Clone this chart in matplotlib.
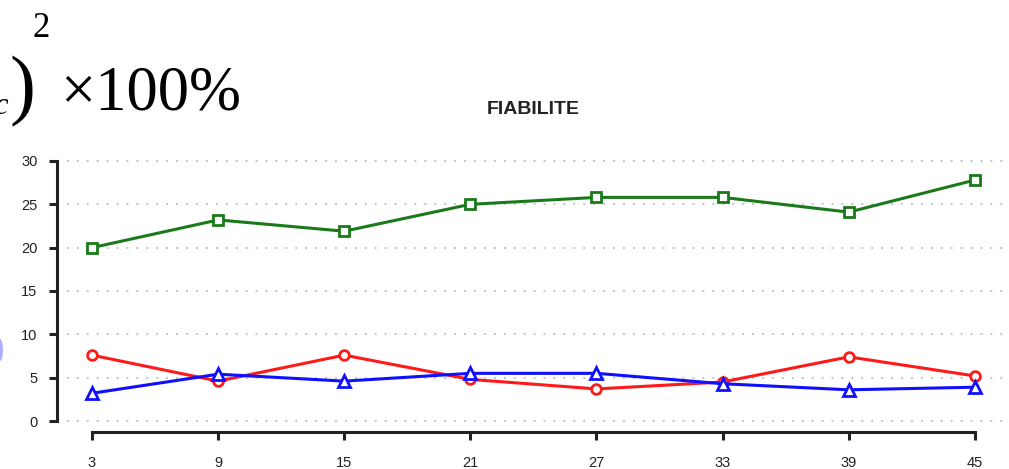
import matplotlib
matplotlib.use("Agg")
from matplotlib import pyplot as plt
from matplotlib.patches import Ellipse

# sample sizes on the x axis
sizes = [3, 9, 15, 21, 27, 33, 39, 45]

# reliability values (%) per method
green_vals = [20.0, 23.2, 21.9, 25.0, 25.8, 25.8, 24.1, 27.8]
red_vals = [7.6, 4.6, 7.6, 4.8, 3.7, 4.5, 7.4, 5.2]
blue_vals = [3.2, 5.4, 4.6, 5.5, 5.5, 4.3, 3.6, 3.9]

y_ticks = [0, 5, 10, 15, 20, 25, 30]

W, H = 1009, 469
fig = plt.figure(figsize=(W / 100, H / 100), dpi=100)
fig.patch.set_facecolor("white")

# axes placed in pixel terms
left, right, bottom, top = 57, 1009, 432, 150
ax = fig.add_axes([left / W, (H - bottom) / H, (right - left) / W, (bottom - top) / H])

# pixel scale: x=3 -> 92px, 21.02px per unit; y=0 -> 421px, 8.667px per unit
xpu, ypu = 21.02, 8.667
ax.set_xlim(3 - (92 - left) / xpu, 3 + (right - 92) / xpu)
ax.set_ylim(-(bottom - 421) / ypu, (421 - top) / ypu)

for y in y_ticks:
    ax.axhline(y, color="#bbbbbb", lw=1.3, ls=(0, (1, 4.5)), zorder=1)

ax.plot(sizes, green_vals, "-", color="#1a7a1a", lw=2.2, marker="s", ms=7,
        mfc="white", mec="#1a7a1a", mew=2, zorder=3)
ax.plot(sizes, red_vals, "-", color="#ff1a1a", lw=2.2, marker="o", ms=7,
        mfc="white", mec="#ff1a1a", mew=2, zorder=3)
ax.plot(sizes, blue_vals, "-", color="#1010ff", lw=2.2, marker="^", ms=8,
        mfc="white", mec="#1010ff", mew=2, zorder=3)

for s in ["top", "right"]:
    ax.spines[s].set_visible(False)
ax.spines["left"].set_bounds(0, 30)
ax.spines["bottom"].set_bounds(3, 45)
for s in ["left", "bottom"]:
    ax.spines[s].set_linewidth(2.2)
    ax.spines[s].set_color("#222222")

ax.set_xticks(sizes)
ax.set_yticks(y_ticks)
ax.tick_params(axis="both", direction="out", length=6, width=2.2, color="#222222",
               labelsize=10.5, labelcolor="#222222")
ax.tick_params(axis="y", pad=8)
ax.tick_params(axis="x", pad=11)
for lab in ax.get_xticklabels() + ax.get_yticklabels():
    lab.set_family("Liberation Sans")

fig.text(533 / W, 1 - 110 / H, "FIABILITE", ha="center", va="center",
         fontsize=14, fontweight="bold", family="Liberation Sans", color="#222222")

# tail end of the formula above the chart
serif = "Liberation Serif"
fig.text(10 / W, 1 - 110 / H, ")", fontsize=56, family=serif, ha="left", va="baseline",
         fontweight="light")
fig.text(-6 / W, 1 - 114 / H, "c", fontsize=22, family=serif, style="italic",
         ha="left", va="baseline")
fig.text(33 / W, 1 - 37 / H, "2", fontsize=25, family=serif, ha="left", va="baseline")
fig.text(60 / W, 1 - 109 / H, "\u00d7100%", fontsize=45, family=serif,
         ha="left", va="baseline")

fig.patches.append(Ellipse((0, 1 - 350 / H), 6 / W, 22 / H, transform=fig.transFigure,
                           color="#7777ff", alpha=0.6, lw=0))

fig.savefig("out.png", dpi=100)
